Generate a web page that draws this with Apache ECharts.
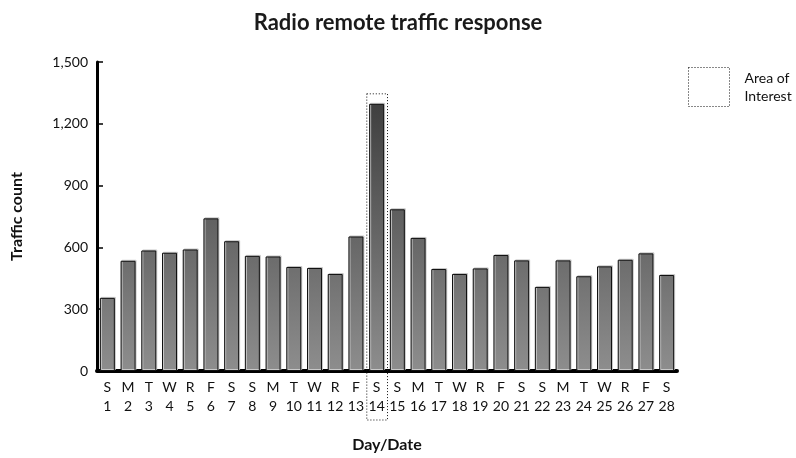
<!DOCTYPE html>
<html>
<head>
<meta charset="utf-8">
<script src="https://cdn.jsdelivr.net/npm/echarts@6/dist/echarts.min.js"></script>
<style>
  html, body { margin: 0; padding: 0; background: #fff; }
  #chart { width: 796px; height: 458px; }
</style>
</head>
<body>
<div id="chart"></div>
<script>
// day of week letter + date, one entry per bar
const weekdays = ['S', 'M', 'T', 'W', 'R', 'F', 'S', 'S', 'M', 'T', 'W', 'R', 'F', 'S',
  'S', 'M', 'T', 'W', 'R', 'F', 'S', 'S', 'M', 'T', 'W', 'R', 'F', 'S']
const dates = ['1', '2', '3', '4', '5', '6', '7', '8', '9', '10', '11', '12', '13', '14',
  '15', '16', '17', '18', '19', '20', '21', '22', '23', '24', '25', '26', '27', '28']
const traffic = [355, 535, 585, 574, 590, 741, 630, 559, 556, 505, 500, 471, 653, 1297,
  785, 646, 495, 471, 498, 563, 537, 408, 537, 460, 508, 540, 571, 466]
const highlightDates = ['14']
const yTicks = [0, 300, 600, 900, 1200, 1500]

const categories = dates.map((d, i) => weekdays[i] + '\n' + d)
const highlightData = highlightDates.map(d => {
  const i = dates.indexOf(d)
  return [i, traffic[i]]
})

const font = 'Lato'
const chart = echarts.init(document.getElementById('chart'))

chart.setOption({
  animation: false,
  title: {
    text: 'Radio remote traffic response',
    left: 'center',
    top: 7,
    textStyle: { fontFamily: font, fontSize: 22, fontWeight: 'bold', color: '#1a1a1a' }
  },
  legend: {
    left: 683,
    top: 62,
    orient: 'vertical',
    itemWidth: 41,
    itemHeight: 39,
    data: [{
      name: 'Area of Interest',
      icon: 'rect',
      itemStyle: { color: 'transparent', borderColor: '#111', borderWidth: 1, borderType: [1, 2] }
    }],
    formatter: () => 'Area of\nInterest',
    textStyle: { fontFamily: font, fontSize: 14, color: '#111', lineHeight: 18, padding: [0, 0, 0, 10] }
  },
  grid: { left: 97, top: 62, width: 580, height: 311 },
  xAxis: {
    type: 'category',
    data: categories,
    name: 'Day/Date',
    nameLocation: 'middle',
    nameGap: 66,
    nameTextStyle: { fontFamily: font, fontSize: 16, fontWeight: 'bold', color: '#111' },
    axisLine: { lineStyle: { color: '#000', width: 4 } },
    axisTick: { inside: true, length: 8, lineStyle: { color: '#000', width: 1.5 } },
    axisLabel: { fontFamily: font, fontSize: 14, color: '#111', lineHeight: 19, margin: 7, interval: 0 }
  },
  yAxis: {
    type: 'value',
    min: yTicks[0],
    max: yTicks[yTicks.length - 1],
    interval: yTicks[1] - yTicks[0],
    name: 'Traffic count',
    nameLocation: 'middle',
    nameGap: 72,
    nameTextStyle: { fontFamily: font, fontSize: 16, fontWeight: 'bold', color: '#111' },
    axisLine: { show: true, lineStyle: { color: '#000', width: 3 } },
    axisTick: { show: true, inside: true, length: 6, lineStyle: { color: '#000', width: 1.5 } },
    splitLine: { show: false },
    axisLabel: {
      fontFamily: font, fontSize: 14, color: '#111', margin: 9,
      formatter: v => v.toLocaleString('en-US')
    }
  },
  series: [
    {
      name: 'Traffic',
      type: 'bar',
      data: traffic,
      barWidth: 15,
      itemStyle: {
        // gradient fixed to the plot so taller bars get darker tops
        color: new echarts.graphic.LinearGradient(0, 62, 0, 373, [
          { offset: 0, color: '#333333' },
          { offset: 1, color: '#8e8e8e' }
        ], true),
        borderColor: '#111',
        borderWidth: 1,
        shadowColor: '#c8c8c8',
        shadowOffsetX: 1,
        shadowOffsetY: -1,
        shadowBlur: 0
      }
    },
    {
      name: 'Area of Interest',
      type: 'custom',
      clip: false,
      z: 5,
      data: highlightData,
      renderItem: (params, api) => {
        const top = api.coord([api.value(0), api.value(1)])
        const base = api.coord([api.value(0), 0])
        const w = api.size([1, 0])[0]
        const x = top[0] - w / 2 + 0.5
        const y = top[1] - 10
        return {
          type: 'rect',
          shape: { x: x, y: y, width: w, height: base[1] + 49 - y },
          style: { fill: 'none', stroke: '#111', lineWidth: 1, lineDash: [1, 2] }
        }
      }
    }
  ]
})

window.onresize = function () {
  chart.resize()
}
</script>
</body>
</html>
